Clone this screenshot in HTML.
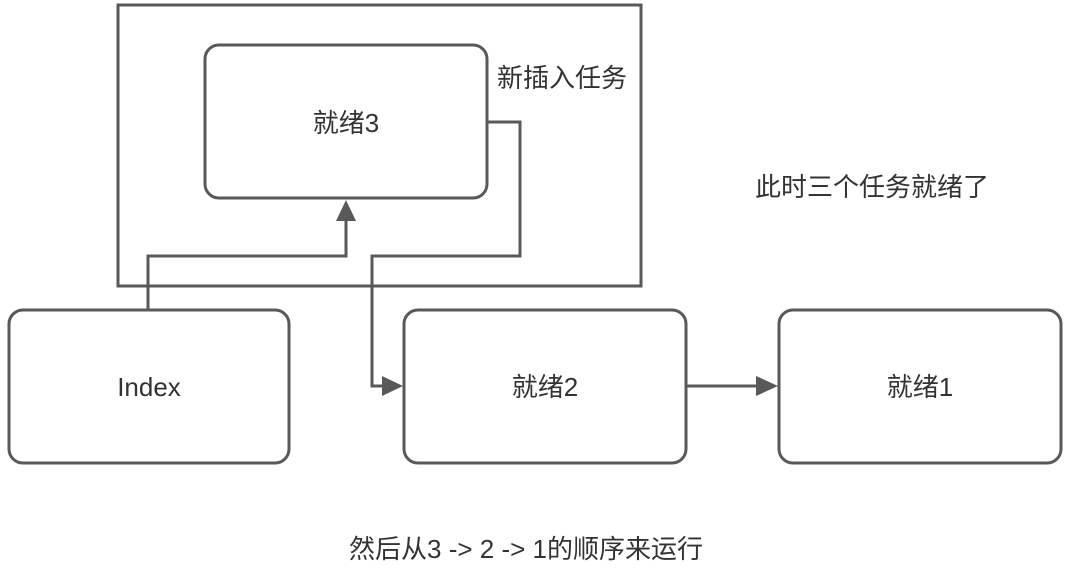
<!DOCTYPE html>
<html><head><meta charset="utf-8"><style>
html,body{margin:0;padding:0;background:#fff;}
svg{display:block;}
text{font-family:"Liberation Sans","Noto Sans CJK SC",sans-serif;fill:#333;}
</style></head><body>
<svg width="1068" height="584" viewBox="0 0 1068 584" xmlns="http://www.w3.org/2000/svg">
<g fill="none" stroke="#595959" stroke-width="3">
<rect x="118" y="5" width="523" height="281"/>
<rect x="205" y="45" width="282" height="153" rx="14"/>
<rect x="9" y="310" width="280" height="153" rx="14"/>
<rect x="404" y="310" width="282" height="153" rx="14"/>
<rect x="779" y="310" width="282" height="153" rx="14"/>
<polyline points="148,310 148,256 346,256 346,220"/>
<polyline points="487,122 520,122 520,256 372,256 372,386 384,386"/>
<line x1="686" y1="386" x2="758" y2="386"/>
</g>
<g fill="#595959">
<polygon points="336,221 356,221 346,200"/>
<polygon points="382,376 382,396 403,386"/>
<polygon points="756,376 756,396 778,386"/>
</g>
<g font-size="26" text-anchor="middle">
<text x="346" y="132">就绪3</text>
<text x="149" y="396">Index</text>
<text x="545" y="396">就绪2</text>
<text x="920" y="396">就绪1</text>
<text x="497" y="87" text-anchor="start">新插入任务</text>
<text x="872" y="196">此时三个任务就绪了</text>
<text x="526" y="558">然后从3 -&gt; 2 -&gt; 1的顺序来运行</text>
</g>
</svg>
</body></html>
